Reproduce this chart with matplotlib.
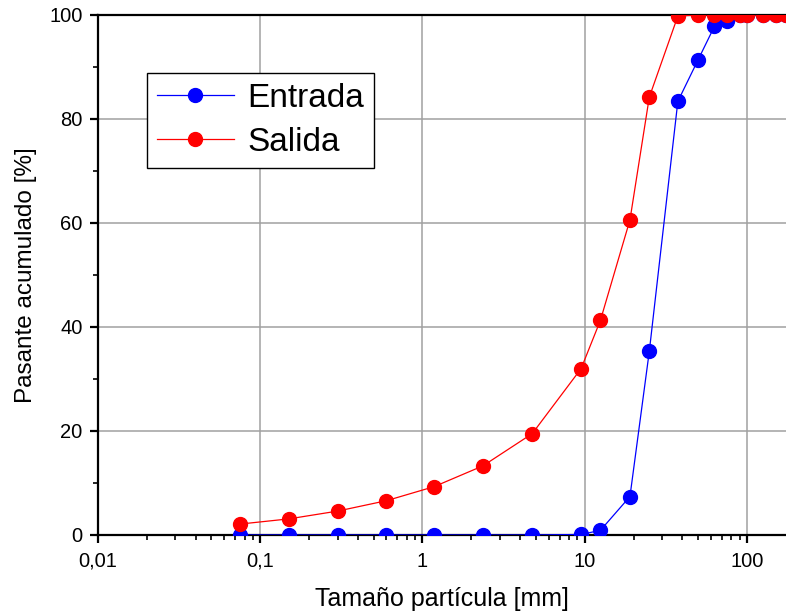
import matplotlib
matplotlib.use('Agg')
import matplotlib.pyplot as plt
from matplotlib.ticker import LogLocator, FuncFormatter, MultipleLocator

plt.rcParams['font.family'] = ['Liberation Sans', 'DejaVu Sans']

# --- data ---
tamano = [0.075, 0.15, 0.3, 0.6, 1.18, 2.36, 4.75, 9.5, 12.5, 19, 25, 37.5,
          50, 63, 75, 90, 100, 125, 150, 175]
entrada = [0, 0, 0, 0, 0, 0, 0, 0.1, 0.9, 7.4, 35.3, 83.4,
           91.4, 97.8, 98.8, 100, 100, 100, 100, 100]
salida = [2.1, 3.1, 4.6, 6.6, 9.3, 13.3, 19.5, 32.0, 41.3, 60.6, 84.2, 99.8,
          100, 100, 100, 100, 100, 100, 100, 100]


def coma(v, pos):
    # decimal comma like the original
    if v >= 1:
        return '%d' % round(v)
    return ('%g' % v).replace('.', ',')


fig = plt.figure(figsize=(7.86, 6.13), dpi=100)
ax = fig.add_axes([98 / 786, 1 - 535 / 613, 1 - 98 / 786, (535 - 15) / 613])

ax.plot(tamano, entrada, color='#0000ff', lw=0.9, marker='o', ms=10,
        label='Entrada', zorder=3)
ax.plot(tamano, salida, color='#ff0000', lw=0.9, marker='o', ms=10,
        label='Salida', zorder=3)

ax.set_xscale('log')
ax.set_xlim(0.01, 174)
ax.set_ylim(0, 100)

ax.xaxis.set_major_locator(LogLocator(base=10))
ax.xaxis.set_minor_locator(LogLocator(base=10, subs=range(2, 10)))
ax.xaxis.set_major_formatter(FuncFormatter(coma))
ax.yaxis.set_major_locator(MultipleLocator(20))
ax.yaxis.set_minor_locator(MultipleLocator(10))

ax.grid(True, which='major', color='#a0a0a0', lw=1.1)
ax.set_axisbelow(True)

ax.tick_params(which='major', direction='out', length=6, width=1.6,
               labelsize=14.5, colors='black')
ax.tick_params(which='minor', direction='out', length=3.5, width=1.2)
ax.tick_params(axis='x', pad=6)
ax.tick_params(axis='y', pad=5)

for s in ['left', 'bottom', 'top']:
    ax.spines[s].set_linewidth(1.6)
ax.spines['right'].set_visible(False)

ax.set_xlabel('Tamaño partícula [mm]', fontsize=18, labelpad=12)
ax.set_ylabel('Pasante acumulado [%]', fontsize=17.5, labelpad=9)

leg = ax.legend(loc='upper left', bbox_to_anchor=(147 / 786, 1 - 73 / 613),
                bbox_transform=fig.transFigure, fontsize=24, frameon=True,
                fancybox=False, edgecolor='black', framealpha=1,
                handlelength=2.3, borderpad=0.3, labelspacing=0.38,
                handletextpad=0.4, borderaxespad=0)
leg.get_frame().set_linewidth(1.0)

fig.savefig('out.png', dpi=100)
